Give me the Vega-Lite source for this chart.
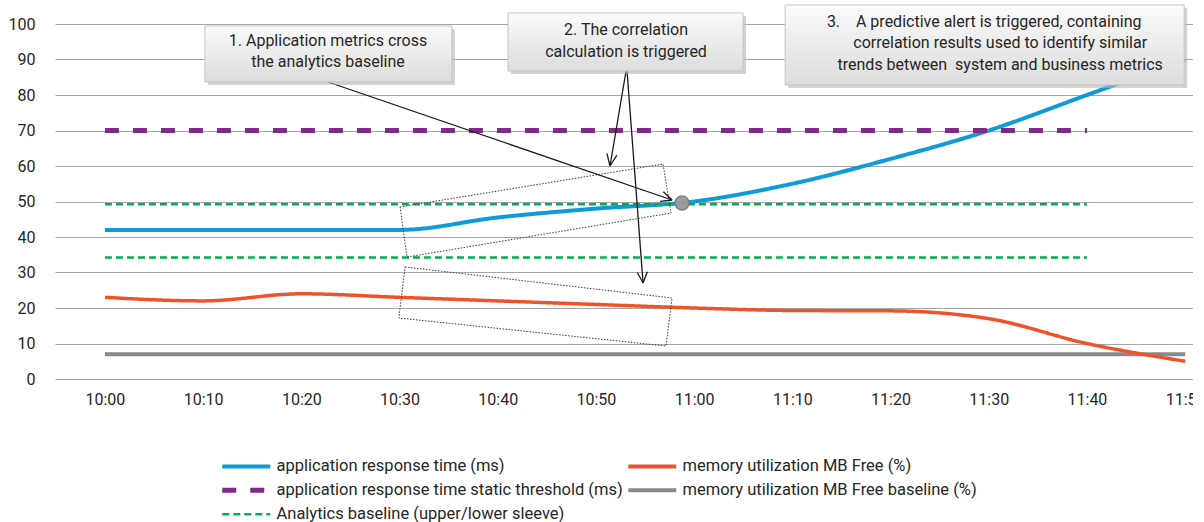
{
  "$schema": "https://vega.github.io/schema/vega-lite/v6.json",
  "width": 1138,
  "height": 355,
  "autosize": {"type": "none"},
  "padding": {"left": 55, "top": 24, "right": 0, "bottom": 143},
  "background": "white",
  "config": {
    "view": {"stroke": null},
    "font": "Roboto"
  },
  "datasets": {
    "series": [
      {"series": "application response time (ms)", "line": "art", "time": "2024-01-01T10:00:00", "value": 42},
      {"series": "application response time (ms)", "line": "art", "time": "2024-01-01T10:10:00", "value": 42},
      {"series": "application response time (ms)", "line": "art", "time": "2024-01-01T10:20:00", "value": 42},
      {"series": "application response time (ms)", "line": "art", "time": "2024-01-01T10:30:00", "value": 42},
      {"series": "application response time (ms)", "line": "art", "time": "2024-01-01T10:40:00", "value": 45.5},
      {"series": "application response time (ms)", "line": "art", "time": "2024-01-01T10:50:00", "value": 48},
      {"series": "application response time (ms)", "line": "art", "time": "2024-01-01T11:00:00", "value": 50},
      {"series": "application response time (ms)", "line": "art", "time": "2024-01-01T11:10:00", "value": 55},
      {"series": "application response time (ms)", "line": "art", "time": "2024-01-01T11:20:00", "value": 62},
      {"series": "application response time (ms)", "line": "art", "time": "2024-01-01T11:30:00", "value": 70},
      {"series": "application response time (ms)", "line": "art", "time": "2024-01-01T11:40:00", "value": 80},
      {"series": "application response time (ms)", "line": "art", "time": "2024-01-01T11:50:00", "value": 90},
      {"series": "memory utilization MB Free (%)", "line": "mem", "time": "2024-01-01T10:00:00", "value": 23},
      {"series": "memory utilization MB Free (%)", "line": "mem", "time": "2024-01-01T10:10:00", "value": 22},
      {"series": "memory utilization MB Free (%)", "line": "mem", "time": "2024-01-01T10:20:00", "value": 24},
      {"series": "memory utilization MB Free (%)", "line": "mem", "time": "2024-01-01T10:30:00", "value": 23},
      {"series": "memory utilization MB Free (%)", "line": "mem", "time": "2024-01-01T10:40:00", "value": 22},
      {"series": "memory utilization MB Free (%)", "line": "mem", "time": "2024-01-01T10:50:00", "value": 21},
      {"series": "memory utilization MB Free (%)", "line": "mem", "time": "2024-01-01T11:00:00", "value": 20},
      {"series": "memory utilization MB Free (%)", "line": "mem", "time": "2024-01-01T11:10:00", "value": 19.3},
      {"series": "memory utilization MB Free (%)", "line": "mem", "time": "2024-01-01T11:20:00", "value": 19.2},
      {"series": "memory utilization MB Free (%)", "line": "mem", "time": "2024-01-01T11:30:00", "value": 17},
      {"series": "memory utilization MB Free (%)", "line": "mem", "time": "2024-01-01T11:40:00", "value": 10},
      {"series": "memory utilization MB Free (%)", "line": "mem", "time": "2024-01-01T11:50:00", "value": 5},
      {"series": "application response time static threshold (ms)", "line": "thr", "time": "2024-01-01T10:00:00", "value": 70},
      {"series": "application response time static threshold (ms)", "line": "thr", "time": "2024-01-01T10:10:00", "value": 70},
      {"series": "application response time static threshold (ms)", "line": "thr", "time": "2024-01-01T10:20:00", "value": 70},
      {"series": "application response time static threshold (ms)", "line": "thr", "time": "2024-01-01T10:30:00", "value": 70},
      {"series": "application response time static threshold (ms)", "line": "thr", "time": "2024-01-01T10:40:00", "value": 70},
      {"series": "application response time static threshold (ms)", "line": "thr", "time": "2024-01-01T10:50:00", "value": 70},
      {"series": "application response time static threshold (ms)", "line": "thr", "time": "2024-01-01T11:00:00", "value": 70},
      {"series": "application response time static threshold (ms)", "line": "thr", "time": "2024-01-01T11:10:00", "value": 70},
      {"series": "application response time static threshold (ms)", "line": "thr", "time": "2024-01-01T11:20:00", "value": 70},
      {"series": "application response time static threshold (ms)", "line": "thr", "time": "2024-01-01T11:30:00", "value": 70},
      {"series": "application response time static threshold (ms)", "line": "thr", "time": "2024-01-01T11:40:00", "value": 70},
      {"series": "memory utilization MB Free baseline (%)", "line": "mbase", "time": "2024-01-01T10:00:00", "value": 7},
      {"series": "memory utilization MB Free baseline (%)", "line": "mbase", "time": "2024-01-01T10:10:00", "value": 7},
      {"series": "memory utilization MB Free baseline (%)", "line": "mbase", "time": "2024-01-01T10:20:00", "value": 7},
      {"series": "memory utilization MB Free baseline (%)", "line": "mbase", "time": "2024-01-01T10:30:00", "value": 7},
      {"series": "memory utilization MB Free baseline (%)", "line": "mbase", "time": "2024-01-01T10:40:00", "value": 7},
      {"series": "memory utilization MB Free baseline (%)", "line": "mbase", "time": "2024-01-01T10:50:00", "value": 7},
      {"series": "memory utilization MB Free baseline (%)", "line": "mbase", "time": "2024-01-01T11:00:00", "value": 7},
      {"series": "memory utilization MB Free baseline (%)", "line": "mbase", "time": "2024-01-01T11:10:00", "value": 7},
      {"series": "memory utilization MB Free baseline (%)", "line": "mbase", "time": "2024-01-01T11:20:00", "value": 7},
      {"series": "memory utilization MB Free baseline (%)", "line": "mbase", "time": "2024-01-01T11:30:00", "value": 7},
      {"series": "memory utilization MB Free baseline (%)", "line": "mbase", "time": "2024-01-01T11:40:00", "value": 7},
      {"series": "memory utilization MB Free baseline (%)", "line": "mbase", "time": "2024-01-01T11:50:00", "value": 7},
      {"series": "Analytics baseline (upper/lower sleeve)", "line": "upper", "time": "2024-01-01T10:00:00", "value": 49.2},
      {"series": "Analytics baseline (upper/lower sleeve)", "line": "upper", "time": "2024-01-01T10:10:00", "value": 49.2},
      {"series": "Analytics baseline (upper/lower sleeve)", "line": "upper", "time": "2024-01-01T10:20:00", "value": 49.2},
      {"series": "Analytics baseline (upper/lower sleeve)", "line": "upper", "time": "2024-01-01T10:30:00", "value": 49.2},
      {"series": "Analytics baseline (upper/lower sleeve)", "line": "upper", "time": "2024-01-01T10:40:00", "value": 49.2},
      {"series": "Analytics baseline (upper/lower sleeve)", "line": "upper", "time": "2024-01-01T10:50:00", "value": 49.2},
      {"series": "Analytics baseline (upper/lower sleeve)", "line": "upper", "time": "2024-01-01T11:00:00", "value": 49.2},
      {"series": "Analytics baseline (upper/lower sleeve)", "line": "upper", "time": "2024-01-01T11:10:00", "value": 49.2},
      {"series": "Analytics baseline (upper/lower sleeve)", "line": "upper", "time": "2024-01-01T11:20:00", "value": 49.2},
      {"series": "Analytics baseline (upper/lower sleeve)", "line": "upper", "time": "2024-01-01T11:30:00", "value": 49.2},
      {"series": "Analytics baseline (upper/lower sleeve)", "line": "upper", "time": "2024-01-01T11:40:00", "value": 49.2},
      {"series": "Analytics baseline (upper/lower sleeve)", "line": "lower", "time": "2024-01-01T10:00:00", "value": 34.2},
      {"series": "Analytics baseline (upper/lower sleeve)", "line": "lower", "time": "2024-01-01T10:10:00", "value": 34.2},
      {"series": "Analytics baseline (upper/lower sleeve)", "line": "lower", "time": "2024-01-01T10:20:00", "value": 34.2},
      {"series": "Analytics baseline (upper/lower sleeve)", "line": "lower", "time": "2024-01-01T10:30:00", "value": 34.2},
      {"series": "Analytics baseline (upper/lower sleeve)", "line": "lower", "time": "2024-01-01T10:40:00", "value": 34.2},
      {"series": "Analytics baseline (upper/lower sleeve)", "line": "lower", "time": "2024-01-01T10:50:00", "value": 34.2},
      {"series": "Analytics baseline (upper/lower sleeve)", "line": "lower", "time": "2024-01-01T11:00:00", "value": 34.2},
      {"series": "Analytics baseline (upper/lower sleeve)", "line": "lower", "time": "2024-01-01T11:10:00", "value": 34.2},
      {"series": "Analytics baseline (upper/lower sleeve)", "line": "lower", "time": "2024-01-01T11:20:00", "value": 34.2},
      {"series": "Analytics baseline (upper/lower sleeve)", "line": "lower", "time": "2024-01-01T11:30:00", "value": 34.2},
      {"series": "Analytics baseline (upper/lower sleeve)", "line": "lower", "time": "2024-01-01T11:40:00", "value": 34.2}
    ],
    "frames": [
      {"shape": "A", "i": 0, "time": "2024-01-01T10:30:03", "value": 48.45},
      {"shape": "A", "i": 1, "time": "2024-01-01T10:56:50", "value": 60.56},
      {"shape": "A", "i": 2, "time": "2024-01-01T10:57:39", "value": 46.76},
      {"shape": "A", "i": 3, "time": "2024-01-01T10:30:46", "value": 34.37},
      {"shape": "A", "i": 4, "time": "2024-01-01T10:30:03", "value": 48.45},
      {"shape": "B", "i": 0, "time": "2024-01-01T10:30:34", "value": 31.55},
      {"shape": "B", "i": 1, "time": "2024-01-01T10:57:45", "value": 22.82},
      {"shape": "B", "i": 2, "time": "2024-01-01T10:57:08", "value": 9.30},
      {"shape": "B", "i": 3, "time": "2024-01-01T10:29:56", "value": 17.18},
      {"shape": "B", "i": 4, "time": "2024-01-01T10:30:34", "value": 31.55}
    ],
    "arrows": [
      {"time": "2024-01-01T10:22:43", "value": 83.66, "time2": "2024-01-01T10:57:45", "value2": 50.42},
      {"time": "2024-01-01T10:57:45", "value": 50.42, "time2": "2024-01-01T10:56:52", "value2": 52.76},
      {"time": "2024-01-01T10:57:45", "value": 50.42, "time2": "2024-01-01T10:56:32", "value2": 50.06},
      {"time": "2024-01-01T10:53:04", "value": 86.76, "time2": "2024-01-01T10:51:26", "value2": 60.0},
      {"time": "2024-01-01T10:51:26", "value": 60.0, "time2": "2024-01-01T10:52:08", "value2": 63.04},
      {"time": "2024-01-01T10:51:26", "value": 60.0, "time2": "2024-01-01T10:51:07", "value2": 63.55},
      {"time": "2024-01-01T10:53:10", "value": 86.76, "time2": "2024-01-01T10:54:48", "value2": 27.04},
      {"time": "2024-01-01T10:54:48", "value": 27.04, "time2": "2024-01-01T10:55:14", "value2": 30.2},
      {"time": "2024-01-01T10:54:48", "value": 27.04, "time2": "2024-01-01T10:54:13", "value2": 30.0}
    ],
    "crossing": [
      {"time": "2024-01-01T10:58:46", "value": 49.58}
    ],
    "boxes": [
      {"box": 1, "time": "2024-01-01T10:10:11", "time2": "2024-01-01T10:35:20", "value": 99.44, "value2": 83.66},
      {"box": 2, "time": "2024-01-01T10:41:03", "time2": "2024-01-01T11:04:59", "value": 103.1, "value2": 86.76},
      {"box": 3, "time": "2024-01-01T11:09:16", "time2": "2024-01-01T11:49:54", "value": 105.35, "value2": 82.82}
    ],
    "notes": [
      {"text": "1. Application metrics cross", "time": "2024-01-01T10:22:43", "value": 95.3},
      {"text": "the analytics baseline", "time": "2024-01-01T10:22:43", "value": 89.3},
      {"text": "2. The correlation", "time": "2024-01-01T10:53:04", "value": 98.3},
      {"text": "calculation is triggered", "time": "2024-01-01T10:53:04", "value": 92.1},
      {"text": "3.\u00a0\u00a0\u00a0\u00a0A predictive alert is triggered, containing", "time": "2024-01-01T11:29:32", "value": 100.6},
      {"text": "correlation results used to identify similar", "time": "2024-01-01T11:31:10", "value": 94.6},
      {"text": "trends between\u00a0 system and business metrics", "time": "2024-01-01T11:31:10", "value": 88.5}
    ]
  },
  "encoding": {
    "x": {
      "field": "time",
      "type": "temporal",
      "scale": {
        "domain": [
          {"year": 2024, "month": 1, "date": 1, "hours": 9, "minutes": 54, "seconds": 55},
          {"year": 2024, "month": 1, "date": 1, "hours": 11, "minutes": 50, "seconds": 48}
        ]
      },
      "axis": {
        "title": null,
        "format": "%H:%M",
        "values": [
          {"year": 2024, "month": 1, "date": 1, "hours": 10, "minutes": 0},
          {"year": 2024, "month": 1, "date": 1, "hours": 10, "minutes": 10},
          {"year": 2024, "month": 1, "date": 1, "hours": 10, "minutes": 20},
          {"year": 2024, "month": 1, "date": 1, "hours": 10, "minutes": 30},
          {"year": 2024, "month": 1, "date": 1, "hours": 10, "minutes": 40},
          {"year": 2024, "month": 1, "date": 1, "hours": 10, "minutes": 50},
          {"year": 2024, "month": 1, "date": 1, "hours": 11, "minutes": 0},
          {"year": 2024, "month": 1, "date": 1, "hours": 11, "minutes": 10},
          {"year": 2024, "month": 1, "date": 1, "hours": 11, "minutes": 20},
          {"year": 2024, "month": 1, "date": 1, "hours": 11, "minutes": 30},
          {"year": 2024, "month": 1, "date": 1, "hours": 11, "minutes": 40},
          {"year": 2024, "month": 1, "date": 1, "hours": 11, "minutes": 50}
        ],
        "grid": false,
        "domain": false,
        "ticks": false,
        "labelFontSize": 16,
        "labelColor": "#262626",
        "labelPadding": 12,
        "labelFlush": false,
        "labelOverlap": false
      }
    },
    "y": {
      "field": "value",
      "type": "quantitative",
      "scale": {"domain": [0, 100], "nice": false},
      "axis": {
        "title": null,
        "values": [0, 10, 20, 30, 40, 50, 60, 70, 80, 90, 100],
        "grid": true,
        "gridColor": "#a6a6a6",
        "gridWidth": 1,
        "domain": false,
        "ticks": false,
        "labelFontSize": 16,
        "labelColor": "#262626",
        "labelPadding": 20
      }
    }
  },
  "layer": [
    {
      "data": {"name": "series"},
      "transform": [{"filter": "datum.series === 'memory utilization MB Free baseline (%)' || datum.series === 'application response time (ms)'"}],
      "mark": {"type": "line", "interpolate": "monotone", "strokeWidth": 4},
      "encoding": {
        "color": {
          "field": "series",
          "type": "nominal",
          "scale": {
            "domain": ["application response time (ms)", "application response time static threshold (ms)", "Analytics baseline (upper/lower sleeve)", "memory utilization MB Free (%)", "memory utilization MB Free baseline (%)"],
            "range": ["#0f9bd7", "#7f2a86", "#00b050", "#f0532a", "#8a8a8a"]
          },
          "legend": {
            "title": null,
            "orient": "none",
            "legendX": 183,
            "legendY": 434,
            "columns": 2,
            "columnPadding": -3,
            "rowPadding": 5,
            "symbolType": "M-2,0H2",
            "symbolSize": 576,
            "symbolStrokeWidth": 4,
            "labelFontSize": 16.5,
            "labelColor": "#262626",
            "labelOffset": 22,
            "labelLimit": 500,
            "padding": 0,
            "encode": {
              "symbols": {
                "update": {
                  "strokeWidth": {"signal": "datum.value === 'Analytics baseline (upper/lower sleeve)' ? 2.5 : datum.value === 'application response time static threshold (ms)' ? 5 : 4"}
                }
              }
            }
          }
        },
        "strokeDash": {
          "field": "series",
          "type": "nominal",
          "scale": {
            "domain": ["application response time (ms)", "application response time static threshold (ms)", "Analytics baseline (upper/lower sleeve)", "memory utilization MB Free (%)", "memory utilization MB Free baseline (%)"],
            "range": [[1, 0], [14, 14], [7, 4], [1, 0], [1, 0]]
          }
        },
        "detail": {"field": "line", "type": "nominal"}
      }
    },
    {
      "data": {"name": "series"},
      "transform": [{"filter": "datum.series === 'Analytics baseline (upper/lower sleeve)'"}],
      "mark": {"type": "line", "strokeWidth": 2.5},
      "encoding": {
        "color": {"field": "series", "type": "nominal"},
        "strokeDash": {"field": "series", "type": "nominal"},
        "detail": {"field": "line", "type": "nominal"}
      }
    },
    {
      "data": {"name": "series"},
      "transform": [{"filter": "datum.series === 'application response time static threshold (ms)'"}],
      "mark": {"type": "line", "strokeWidth": 5},
      "encoding": {
        "color": {"field": "series", "type": "nominal"},
        "strokeDash": {"field": "series", "type": "nominal"},
        "detail": {"field": "line", "type": "nominal"}
      }
    },
    {
      "data": {"name": "series"},
      "transform": [{"filter": "datum.series === 'memory utilization MB Free (%)'"}],
      "mark": {"type": "line", "interpolate": "monotone", "strokeWidth": 3.5},
      "encoding": {
        "color": {"field": "series", "type": "nominal"},
        "strokeDash": {"field": "series", "type": "nominal"},
        "detail": {"field": "line", "type": "nominal"}
      }
    },
    {
      "data": {"name": "frames"},
      "mark": {"type": "line", "color": "#3a3a3a", "strokeWidth": 1, "strokeDash": [1.5, 1.5]},
      "encoding": {
        "detail": {"field": "shape", "type": "nominal"},
        "order": {"field": "i", "type": "quantitative"}
      }
    },
    {
      "data": {"name": "arrows"},
      "mark": {"type": "rule", "color": "#1a1a1a", "strokeWidth": 1.3},
      "encoding": {
        "x2": {"field": "time2"},
        "y2": {"field": "value2"}
      }
    },
    {
      "data": {"name": "crossing"},
      "mark": {"type": "point", "filled": true, "color": "#9a9a9a", "size": 190, "opacity": 0.95, "stroke": "#7d7d7d", "strokeWidth": 1.5}
    },
    {
      "data": {"name": "boxes"},
      "mark": {"type": "rect", "color": "#b5b5b5", "opacity": 0.6, "xOffset": 3, "x2Offset": 3, "yOffset": 3, "y2Offset": 3},
      "encoding": {
        "x2": {"field": "time2"},
        "y2": {"field": "value2"}
      }
    },
    {
      "data": {"name": "boxes"},
      "mark": {
        "type": "rect",
        "fill": {"gradient": "linear", "x1": 0, "y1": 0, "x2": 0, "y2": 1, "stops": [{"offset": 0, "color": "#fbfbfb"}, {"offset": 1, "color": "#dcdcdc"}]},
        "stroke": "#c4c4c4",
        "strokeWidth": 1
      },
      "encoding": {
        "x2": {"field": "time2"},
        "y2": {"field": "value2"}
      }
    },
    {
      "data": {"name": "notes"},
      "mark": {"type": "text", "fontSize": 16, "color": "#262626", "align": "center", "baseline": "middle"},
      "encoding": {
        "text": {"field": "text", "type": "nominal"}
      }
    }
  ]
}
